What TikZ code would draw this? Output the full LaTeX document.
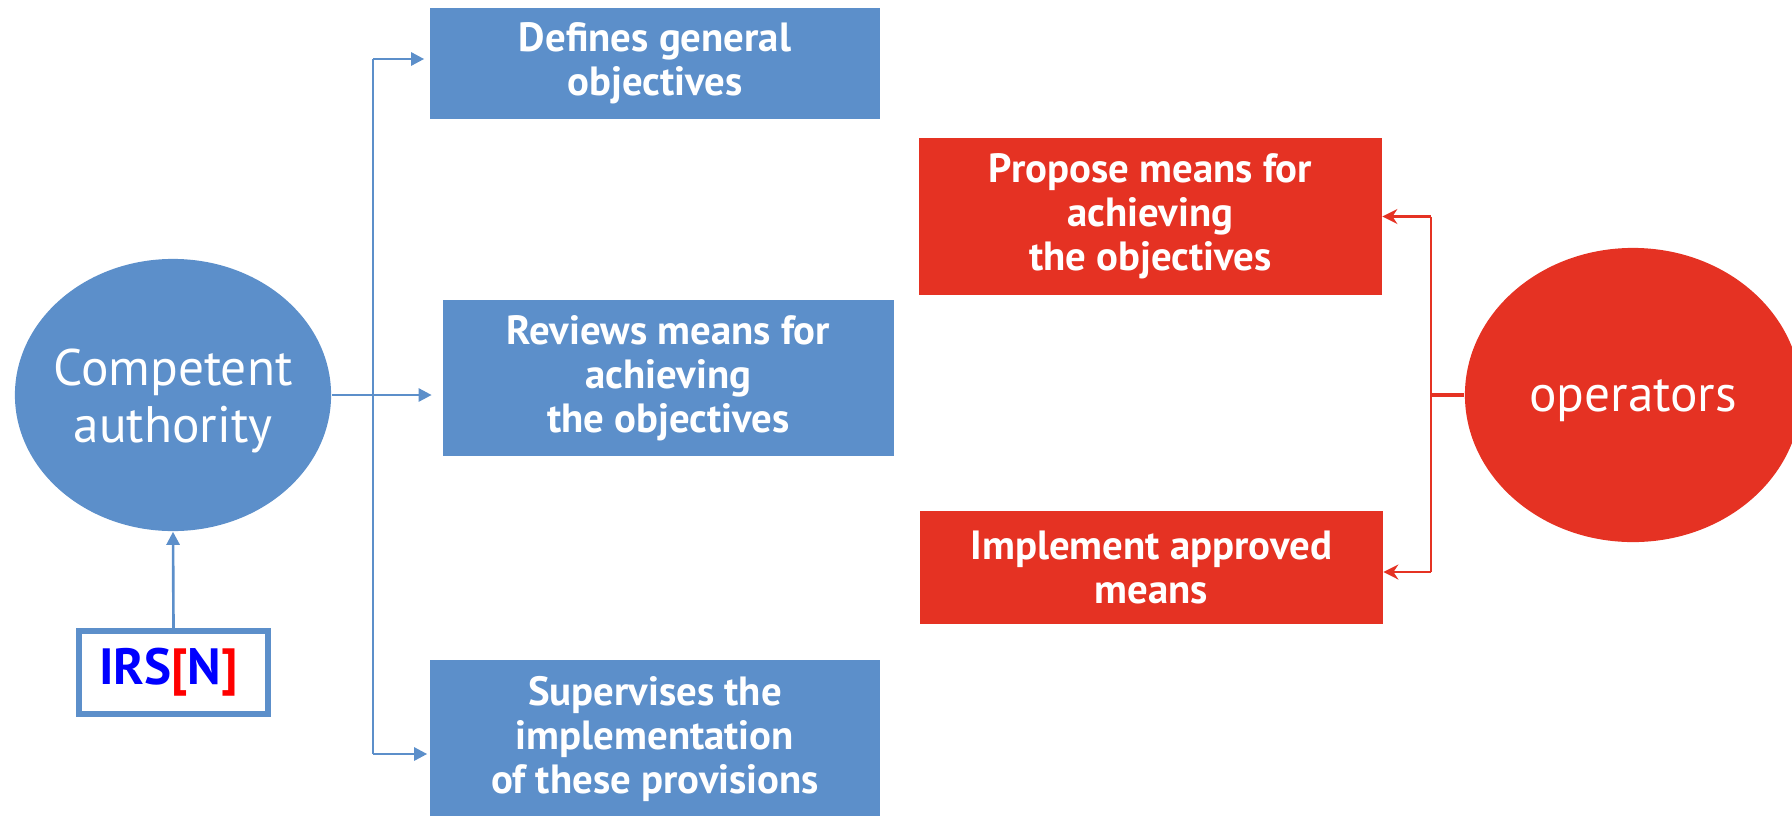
\documentclass[tikz,border=0pt]{standalone}
\usepackage{fontspec}
\setmainfont{PT Sans}
\usetikzlibrary{shapes.geometric,arrows.meta}
\definecolor{boxblue}{RGB}{92,143,202}
\definecolor{boxred}{RGB}{229,50,35}

\begin{document}
\begin{tikzpicture}[x=0.01cm,y=-0.01cm]
            \tikzstyle{box}=[rectangle,text=white,align=center,inner sep=0pt,font=\fontsize{11.6}{12.5}\selectfont\bfseries]
            \tikzstyle{task}=[box, fill=boxblue, minimum width=4.5cm]
            \tikzstyle{action}=[box, fill=boxred, minimum width=4.62cm]
            \tikzstyle{actor}=[ellipse,inner sep=0pt]
            \tikzstyle{actor text}=[text=white,align=center,yshift=-0.06cm,font=\fontsize{14.6}{16.4}\selectfont]
            \tikzstyle{blue link}=[draw=boxblue, line width=0.75pt, -{Triangle[length=1.3mm,width=1.3mm]}]
            \tikzstyle{red link}=[draw=boxred, line width=0.6pt, -{Stealth[length=1.5mm,width=1.5mm]}]

            \useasboundingbox (0,0) rectangle (1792,815);
            \clip (0,0) rectangle (1792,815);

            % The two actors
            \node[actor, fill=boxblue, minimum width=3.16cm, minimum height=2.72cm,
                  label={[actor text]center:Competent\\authority}] (CA) at (173,395) {};
            \node[actor, fill=boxred, minimum width=3.36cm, minimum height=2.94cm,
                  label={[actor text]center:operators}] (OP) at (1633,395) {};

            % Draw the tasks of the authority
            \node[task, minimum height=1.11cm] (B1) at (655,63.5) {Defines general\\objectives};
            \node[task, minimum height=1.56cm] (B2) at (668.5,378) {Reviews means for\\achieving\\the objectives};
            \node[task, minimum height=1.58cm] (B3) at (655,739) {Supervises the\\implementation\\of these provisions};

            % Draw the actions of the operators
            \node[action, minimum height=1.57cm] (R1) at (1150.5,216.5) {Propose means for\\achieving\\the objectives};
            \node[action, minimum height=1.12cm] (R2) at (1151.5,567.5) {Implement approved\\means};

            \node[draw=boxblue, line width=1.7pt, fill=white, minimum width=1.89cm, minimum height=0.83cm,
                  font=\fontsize{14.5}{16}\selectfont\bfseries] (IRS) at (173.5,672.5)
                  {\hspace*{-0.1cm}\textcolor{blue}{IRS}\textcolor{red}{[}\textcolor{blue}{N}\textcolor{red}{]}};

            % Connect the authority with its tasks
            \coordinate (bus top) at (373,59);
            \coordinate (bus bot) at (373,754);
            \draw[boxblue, line width=0.75pt] (bus top) -- (bus bot);
            \draw[blue link, shorten >=0.05cm] (bus top) -- (B1.west |- bus top);
            \draw[blue link, shorten >=0.11cm] (CA.east) -- (B2.west |- CA.east);
            \draw[blue link, shorten >=0.02cm] (bus bot) -- (B3.west |- bus bot);
            \draw[blue link] (IRS.north) -- (CA.south);

            % Connect the operators with their actions
            \coordinate (red top) at (1431,216.5);
            \coordinate (red mid) at (1431,395);
            \coordinate (red bot) at (1431,572);
            \draw[boxred, line width=1.1pt] (OP.west) -- (red mid);
            \draw[boxred, line width=0.6pt] (red top) -- (red bot);
            \draw[red link] (red top) -- (R1.east |- red top);
            \draw[red link] (red bot) -- (R2.east |- red bot);
\end{tikzpicture}
\end{document}
